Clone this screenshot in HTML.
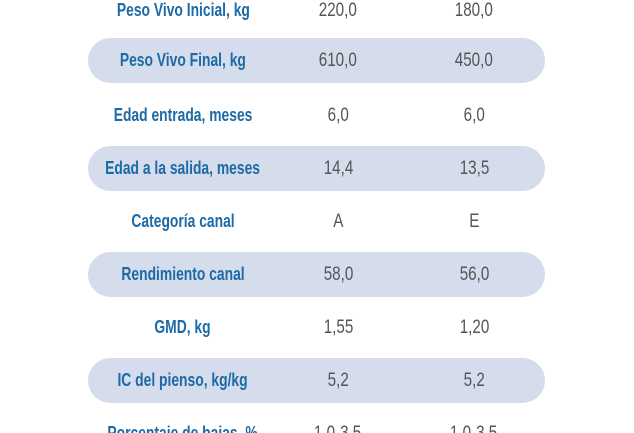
<!DOCTYPE html>
<html><head><meta charset="utf-8"><style>
html,body{margin:0;padding:0;background:#fff;width:634px;height:433px;overflow:hidden;position:relative}
.row{position:absolute;left:88px;width:457px;height:45px}
.pill{background:#d5dcec;border-radius:23px}
.lbl{position:absolute;left:-20px;width:230px;text-align:center;top:0;line-height:45px;font-family:"Liberation Sans",sans-serif;font-weight:bold;font-size:18px;color:#1d6aa6;white-space:nowrap}
.v{position:absolute;top:0;line-height:45px;width:100px;text-align:center;font-family:"Liberation Sans",sans-serif;font-size:19px;color:#555;white-space:nowrap}
.lbl span{display:inline-block;transform:scaleX(0.77)}
.v span{display:inline-block;transform:scaleX(0.8)}
.v1{left:200px}.v2{left:336px}
</style></head><body>
<div class="row" style="top:-12px"><div class="lbl"><span>Peso Vivo Inicial, kg</span></div><div class="v v1"><span>220,0</span></div><div class="v v2"><span>180,0</span></div></div>
<div class="row pill" style="top:38px"><div class="lbl"><span>Peso Vivo Final, kg</span></div><div class="v v1"><span>610,0</span></div><div class="v v2"><span>450,0</span></div></div>
<div class="row" style="top:93px"><div class="lbl"><span>Edad entrada, meses</span></div><div class="v v1"><span>6,0</span></div><div class="v v2"><span>6,0</span></div></div>
<div class="row pill" style="top:146px"><div class="lbl"><span>Edad a la salida, meses</span></div><div class="v v1"><span>14,4</span></div><div class="v v2"><span>13,5</span></div></div>
<div class="row" style="top:199px"><div class="lbl"><span>Categoría canal</span></div><div class="v v1"><span>A</span></div><div class="v v2"><span>E</span></div></div>
<div class="row pill" style="top:252px"><div class="lbl"><span>Rendimiento canal</span></div><div class="v v1"><span>58,0</span></div><div class="v v2"><span>56,0</span></div></div>
<div class="row" style="top:305px"><div class="lbl"><span>GMD, kg</span></div><div class="v v1"><span>1,55</span></div><div class="v v2"><span>1,20</span></div></div>
<div class="row pill" style="top:358px"><div class="lbl"><span>IC del pienso, kg/kg</span></div><div class="v v1"><span>5,2</span></div><div class="v v2"><span>5,2</span></div></div>
<div class="row" style="top:411px"><div class="lbl"><span>Porcentaje de bajas, %</span></div><div class="v v1"><span>1,0-3,5</span></div><div class="v v2"><span>1,0-3,5</span></div></div>
</body></html>
